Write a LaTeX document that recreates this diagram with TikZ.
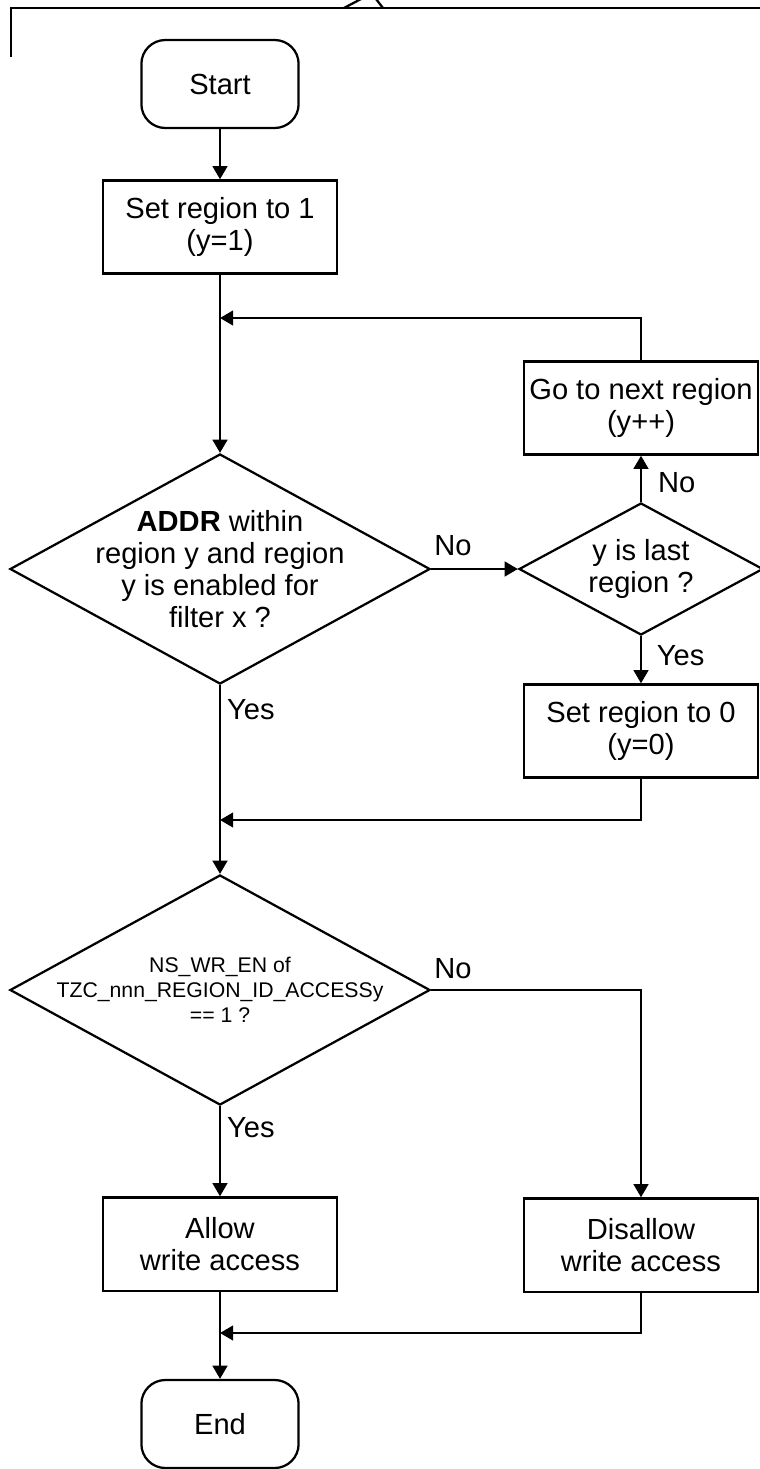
\documentclass[tikz,border=0pt]{standalone}
\usepackage{fontspec}
\setmainfont{Liberation Sans}
\usetikzlibrary{arrows.meta, shapes.geometric}

\begin{document}
\begin{tikzpicture}[%
        x = 0.025cm,
        y = -0.025cm,
        > = {Triangle[length = 0.33cm, width = 0.37cm]},
        line width = 1.6pt,
        font = \fontsize{20.7}{22.8}\selectfont,
        terminal/.style = {%
            draw,
            rounded corners = 0.6cm,
            minimum width = 3.93cm,
            minimum height = 2.2cm,
            inner sep = 0pt
        },
        process/.style = {%
            draw,
            align = center,
            minimum width = 5.85cm,
            minimum height = 2.33cm,
            inner sep = 0pt
        },
        decision/.style = {%
            draw,
            diamond,
            inner sep = 0pt,
            minimum width = 10.5cm,
            minimum height = 5.75cm
        },
        answer/.style = {inner sep = 0pt},
        small/.style = {font = \fontsize{15.1}{17.8}\selectfont}
    ]

        % Page size of the reference.
        \useasboundingbox (0, 0) rectangle (760, 1469);

        % Cut-off frame at the top.
        \draw (11, 57) -- (11, 8) -- (760, 8);
        \draw (344, 8) -- (361, -1);
        \draw (383, 8) -- (376, -1);

        % Boxes of the flow chart:
        \node[terminal] (start) at (220, 84) {Start};
        \node[process] (setone) at (220, 227) {Set region to 1\\(y=1)};
        \node[decision, label = {[align = center]center:\textbf{ADDR} within\\region y and region\\y is enabled for\\filter x ?}]
            (addr) at (220, 569) {};
        \node[decision, minimum width = 6.1cm, minimum height = 3.3cm,
              label = {[align = center]center:y is last\\region ?}]
            (last) at (641, 569) {};
        \node[process] (next) at (641, 408) {Go to next region\\(y++)};
        \node[process] (setzero) at (641, 731) {Set region to 0\\(y=0)};
        \node[decision, label = {[align = center, small]center:NS\_WR\_EN of\\TZC\_nnn\_REGION\_ID\_ACCESSy\\== 1 ?}]
            (nswr) at (220, 990) {};
        \node[process] (allow) at (220, 1244) {Allow\\write access};
        \node[process] (disallow) at (641, 1245) {Disallow\\write access};
        \node[terminal] (stop) at (220, 1424) {End};

        % Points where the side paths meet the main line.
        \coordinate (loop) at (220, 318);
        \coordinate (merge) at (220, 820);
        \coordinate (join) at (220, 1333);

        % Main line:
        \draw[->] (start) -- (setone);
        \draw[->] (setone) -- (addr.north);
        \draw[->] (addr.south)
            node[answer, anchor = north west, shift = {(0.15cm, -0.33cm)}] (yesaddr) {Yes}
            -- (nswr.north);
        \draw[->] (nswr.south)
            node[answer, anchor = north west, shift = {(0.15cm, -0.25cm)}] (yesnswr) {Yes}
            -- (allow.north);
        \draw[->] (allow) -- (stop);

        % Side paths:
        \draw[->] (addr.east)
            node[answer, anchor = south west, shift = {(0.05cm, 0.3cm)}] (noaddr) {No}
            -- (last.west);
        \draw[->] (last.north)
            node[answer, anchor = south west, shift = {(0.4cm, 0.2cm)}] (nolast) {No}
            -- (next.south);
        \draw[->] (last.south)
            node[answer, anchor = north west, shift = {(0.37cm, -0.2cm)}] (yeslast) {Yes}
            -- (setzero.north);
        \draw[->] (next.north) |- (loop);
        \draw[->] (setzero.south) |- (merge);
        \draw[->] (nswr.east)
            node[answer, anchor = south west, shift = {(0.05cm, 0.25cm)}] (nonswr) {No}
            -| (disallow.north);
        \draw[->] (disallow.south) |- (join);
    \end{tikzpicture}
\end{document}
